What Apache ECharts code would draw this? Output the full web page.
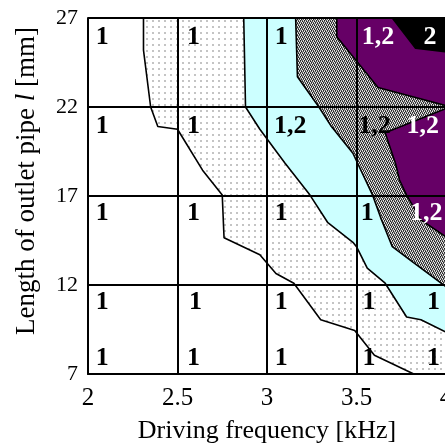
<!DOCTYPE html>
<html><head><meta charset="utf-8">
<script src="https://cdn.jsdelivr.net/npm/echarts@6/dist/echarts.min.js"></script>
<style>html,body{margin:0;padding:0;background:#fff}#c{width:445px;height:443px}</style>
</head><body><div id="c"></div>
<script>
// ---- data ----
const xTicks = ['2', '2.5', '3', '3.5', '4'];
const yTicks = ['7', '12', '17', '22', '27'];

// boundary between white and dotted regions
const boundaryWhiteDotted = [[2.31,27],[2.31,25.2],[2.35,22],[2.39,20.9],[2.5,20.75],[2.64,18.45],[2.75,17.05],[2.76,14.65],[2.96,13.7],[3.05,12.65],[3.15,12.1],[3.3,10.05],[3.49,9.45],[3.6,8.05],[3.82,7]];
// boundary between dotted and cyan regions
const boundaryDottedCyan = [[2.87,27],[2.88,22],[2.96,20.75],[3.1,18.85],[3.24,17.05],[3.34,15.5],[3.48,14.4],[3.5,14.15],[3.56,12.95],[3.66,12.1],[3.78,10.2],[3.86,10.05],[4,9.35]];
// boundary between cyan and hatched regions
const boundaryCyanHatched = [[3.16,27],[3.17,23.7],[3.29,22],[3.36,20.9],[3.48,19.4],[3.55,17.9],[3.59,17.05],[3.64,15.65],[3.7,14.15],[3.8,13.4],[4,11.9]];
// purple regions
const purpleUpper = [[3.39,27],[3.39,25.95],[3.62,23.1],[4,22.08],[4,27]];
const purpleLower = [[4,21.92],[3.66,20.55],[3.72,18.75],[3.74,17.9],[3.78,17.05],[3.86,15.65],[4,14.7]];
// black region
const blackRegion = [[3.7,27],[3.83,25.3],[4,25.1],[4,27]];

// region labels
const labelX = [2.08,2.59,3.08,3.62,3.91, 2.08,2.59,3.13,3.60,3.87, 2.08,2.59,3.08,3.56,3.89, 2.08,2.60,3.08,3.57,3.93, 2.08,2.59,3.08,3.57,3.93];
const labelY = [25.9,25.9,25.9,25.9,25.9, 20.93,20.93,20.93,20.93,20.93, 16.05,16.05,16.05,16.05,16.05, 11.05,11.05,11.05,11.05,11.05, 7.9,7.9,7.9,7.9,7.9];
const labelText = ['1','1','1','1,2','2', '1','1','1,2','1,2','1,2', '1','1','1','1','1,2', '1','1','1','1','1', '1','1','1','1','1'];

// ---- helpers ----
const SERIF = '"Liberation Serif","Times New Roman",serif';
function makePattern(w, h, draw) {
  const c = document.createElement('canvas'); c.width = w; c.height = h;
  draw(c.getContext('2d')); return { image: c, repeat: 'repeat' };
}
const dotPattern = makePattern(6, 6, g => {
  g.fillStyle = '#fff'; g.fillRect(0, 0, 6, 6);
  g.fillStyle = '#c4c4c4'; g.fillRect(2, 2, 2, 2);
});
const hatchPattern = makePattern(4, 4, g => {
  const cols = ['#222', '#aaa', '#555', '#eee'];
  for (let x = 0; x < 4; x++) for (let y = 0; y < 4; y++) {
    g.fillStyle = cols[(x + 2 * y + (y >> 1)) % 4]; g.fillRect(x, y, 1, 1);
  }
});
function inPoly(pt, poly) {
  let inside = false;
  for (let i = 0, j = poly.length - 1; i < poly.length; j = i++) {
    const [xi, yi] = poly[i], [xj, yj] = poly[j];
    if ((yi > pt[1]) !== (yj > pt[1]) && pt[0] < (xj - xi) * (pt[1] - yi) / (yj - yi) + xi) inside = !inside;
  }
  return inside;
}
function polySeries(points, fill, z) {
  return {
    type: 'custom', z: z, silent: true, clip: true, data: [0],
    renderItem: (params, api) => ({
      type: 'polygon',
      shape: { points: points.map(p => api.coord(p)) },
      style: { fill: fill, stroke: null }
    })
  };
}
function lineSeries(points) {
  return {
    type: 'line', data: points, symbol: 'none', silent: true, z: 3,
    lineStyle: { color: '#000', width: 1.6 }, animation: false
  };
}

const regionsDark = [purpleUpper, purpleLower, blackRegion];
const labelData = labelX.map((x, i) => [x, labelY[i]]);

const chart = echarts.init(document.getElementById('c'), null, { renderer: 'canvas' });
chart.setOption({
  animation: false,
  backgroundColor: '#fff',
  grid: { left: 88, top: 18, width: 358, height: 356, containLabel: false, outerBoundsMode: 'none' },
  xAxis: {
    type: 'value', min: 2, max: 4, interval: 0.5, z: 5,
    axisLine: { show: true, lineStyle: { color: '#000', width: 2 } },
    axisTick: { show: false },
    splitLine: { show: true, lineStyle: { color: '#000', width: 2 } },
    axisLabel: { formatter: (v, i) => xTicks[i], color: '#000', fontSize: 25, fontFamily: SERIF, margin: 12 },
    name: 'Driving frequency [kHz]', nameLocation: 'middle', nameGap: 44,
    nameTextStyle: { color: '#000', fontSize: 26, fontFamily: SERIF }
  },
  yAxis: {
    type: 'value', min: 7, max: 27, interval: 5, z: 5,
    axisLine: { show: true, lineStyle: { color: '#000', width: 2 } },
    axisTick: { show: false },
    splitLine: { show: true, lineStyle: { color: '#000', width: 2 } },
    axisLabel: { formatter: (v, i) => yTicks[i], color: '#000', fontSize: 22, fontFamily: SERIF, margin: 10, padding: [6, 0, 0, 0] },
    name: '{a|Length of outlet pipe }{i|l}{a| [mm]}', nameLocation: 'middle', nameGap: 48,
    nameTextStyle: {
      padding: [0, 0, 0, 30],
      rich: {
        a: { color: '#000', fontSize: 27, fontFamily: SERIF },
        i: { color: '#000', fontSize: 27, fontFamily: SERIF, fontStyle: 'italic' }
      }
    }
  },
  series: [
    polySeries(boundaryWhiteDotted.concat([[4, 7], [4, 27]]), dotPattern, 1),
    polySeries(boundaryDottedCyan.concat([[4, 27]]), '#ccffff', 1),
    polySeries(boundaryCyanHatched.concat([[4, 27]]), hatchPattern, 1),
    polySeries(purpleUpper, '#660066', 1),
    polySeries(purpleLower, '#660066', 1),
    polySeries(blackRegion, '#000', 1),
    lineSeries(boundaryWhiteDotted),
    lineSeries(boundaryDottedCyan),
    lineSeries(boundaryCyanHatched),
    lineSeries(purpleUpper.slice(0, 4)),
    lineSeries(purpleLower),
    lineSeries(blackRegion.slice(0, 3)),
    {
      type: 'custom', z: 10, silent: true, data: labelData,
      renderItem: (params, api) => {
        const v = [api.value(0), api.value(1)];
        const p = api.coord(v);
        const dark = regionsDark.some(r => inPoly(v, r));
        return {
          type: 'text', x: p[0], y: p[1],
          style: {
            text: labelText[params.dataIndex], fill: dark ? '#fff' : '#000',
            font: 'bold 26px ' + SERIF, align: 'center', verticalAlign: 'middle'
          }
        };
      }
    }
  ]
});
</script></body></html>
